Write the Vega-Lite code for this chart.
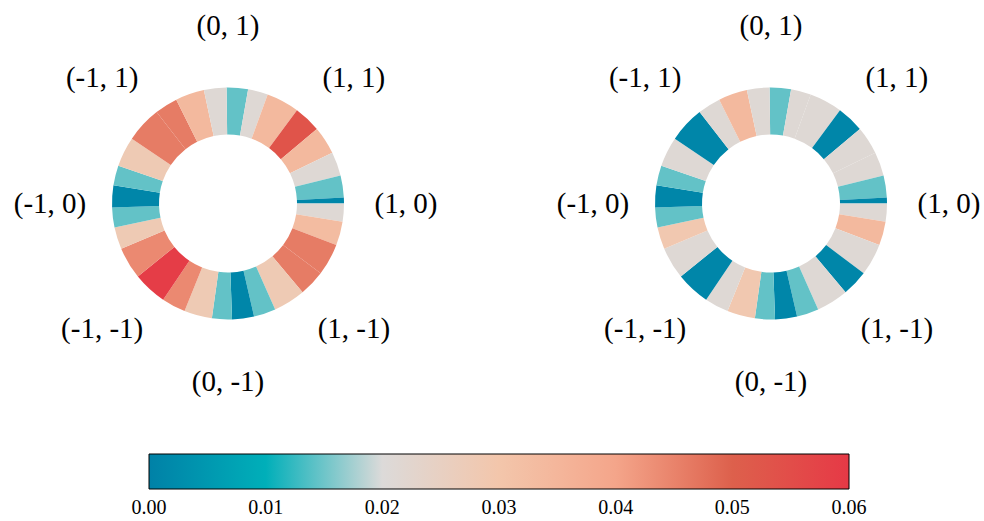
{
  "$schema": "https://vega.github.io/schema/vega-lite/v6.json",
  "padding": 0,
  "background": "white",
  "config": {
    "view": {"stroke": null},
    "font": "Liberation Serif",
    "concat": {"spacing": 100}
  },
  "datasets": {
    "left": [
      {"start": -0.7, "end": 10, "value": 0.0145},
      {"start": 10, "end": 20, "value": 0.021},
      {"start": 20, "end": 36.5, "value": 0.034},
      {"start": 36.5, "end": 50, "value": 0.053},
      {"start": 50, "end": 64, "value": 0.034},
      {"start": 64, "end": 76, "value": 0.021},
      {"start": 76, "end": 87, "value": 0.0145},
      {"start": 87, "end": 90, "value": 0.001},
      {"start": 90, "end": 99, "value": 0.021},
      {"start": 99, "end": 111, "value": 0.033},
      {"start": 111, "end": 127, "value": 0.046},
      {"start": 127, "end": 140, "value": 0.046},
      {"start": 140, "end": 156, "value": 0.028},
      {"start": 156, "end": 167, "value": 0.0145},
      {"start": 167, "end": 178, "value": 0.001},
      {"start": 178, "end": 188, "value": 0.0145},
      {"start": 188, "end": 202, "value": 0.028},
      {"start": 202, "end": 214, "value": 0.044},
      {"start": 214, "end": 231, "value": 0.059},
      {"start": 231, "end": 247, "value": 0.044},
      {"start": 247, "end": 258, "value": 0.028},
      {"start": 258, "end": 268, "value": 0.0145},
      {"start": 268, "end": 279, "value": 0.001},
      {"start": 279, "end": 289, "value": 0.0145},
      {"start": 289, "end": 304, "value": 0.028},
      {"start": 304, "end": 322, "value": 0.046},
      {"start": 322, "end": 333.5, "value": 0.046},
      {"start": 333.5, "end": 348, "value": 0.034},
      {"start": 348, "end": 359.3, "value": 0.021}
    ],
    "right": [
      {"start": -0.7, "end": 10, "value": 0.0145},
      {"start": 10, "end": 20, "value": 0.021},
      {"start": 20, "end": 36.5, "value": 0.021},
      {"start": 36.5, "end": 50, "value": 0.001},
      {"start": 50, "end": 64, "value": 0.021},
      {"start": 64, "end": 76, "value": 0.021},
      {"start": 76, "end": 87, "value": 0.0145},
      {"start": 87, "end": 90, "value": 0.001},
      {"start": 90, "end": 99, "value": 0.021},
      {"start": 99, "end": 111, "value": 0.034},
      {"start": 111, "end": 127, "value": 0.021},
      {"start": 127, "end": 140, "value": 0.001},
      {"start": 140, "end": 156, "value": 0.021},
      {"start": 156, "end": 167, "value": 0.0145},
      {"start": 167, "end": 178, "value": 0.001},
      {"start": 178, "end": 188, "value": 0.0145},
      {"start": 188, "end": 202, "value": 0.029},
      {"start": 202, "end": 214, "value": 0.021},
      {"start": 214, "end": 231, "value": 0.001},
      {"start": 231, "end": 247, "value": 0.021},
      {"start": 247, "end": 258, "value": 0.029},
      {"start": 258, "end": 268, "value": 0.0145},
      {"start": 268, "end": 279, "value": 0.001},
      {"start": 279, "end": 289, "value": 0.0145},
      {"start": 289, "end": 304, "value": 0.021},
      {"start": 304, "end": 322, "value": 0.001},
      {"start": 322, "end": 333.5, "value": 0.021},
      {"start": 333.5, "end": 348, "value": 0.034},
      {"start": 348, "end": 359.3, "value": 0.021}
    ],
    "labels": [
      {"label": "(0, 1)", "angle": 0},
      {"label": "(1, 1)", "angle": 45},
      {"label": "(1, 0)", "angle": 90},
      {"label": "(1, -1)", "angle": 135},
      {"label": "(0, -1)", "angle": 180},
      {"label": "(-1, -1)", "angle": 225},
      {"label": "(-1, 0)", "angle": 270},
      {"label": "(-1, 1)", "angle": 315}
    ]
  },
  "hconcat": [
    {
      "width": 456,
      "height": 407,
      "layer": [
        {
          "data": {"name": "left"},
          "mark": {"type": "arc", "innerRadius": 69, "outerRadius": 116},
          "encoding": {
            "theta": {"field": "start", "type": "quantitative", "stack": null, "scale": {"domain": [0, 360], "range": [0, 6.283185307]}},
            "theta2": {"field": "end"},
            "color": {
              "field": "value", "type": "quantitative",
              "scale": {"domain": [0, 0.01, 0.02, 0.03, 0.04, 0.05, 0.06], "range": ["#0081a7", "#00afb9", "#dcdad9", "#f3c6ab", "#f4a58a", "#dd604c", "#e63946"], "interpolate": "rgb"},
              "legend": {
                "orient": "none", "legendX": 149, "legendY": 454, "direction": "horizontal",
                "gradientLength": 700, "gradientThickness": 35, "title": null,
                "values": [0, 0.01, 0.02, 0.03, 0.04, 0.05, 0.06], "format": ".2f",
                "labelFontSize": 20, "labelFont": "Liberation Serif", "labelColor": "black",
                "labelAlign": "center", "labelOffset": 9, "labelOverlap": false,
                "gradientStrokeColor": "black", "gradientStrokeWidth": 1,
                "encode": {"labels": {"enter": {"align": {"value": "center"}}, "update": {"align": {"value": "center"}}}}
              }
            }
          }
        },
        {
          "data": {"name": "labels"},
          "mark": {"type": "text", "radius": 178, "fontSize": 29, "font": "Liberation Serif", "color": "black", "align": "center", "baseline": "middle"},
          "encoding": {
            "theta": {"field": "angle", "type": "quantitative", "stack": null, "scale": {"domain": [0, 360], "range": [0, 6.283185307]}},
            "text": {"field": "label"}
          }
        }
      ]
    },
    {
      "width": 420,
      "height": 407,
      "layer": [
        {
          "data": {"name": "right"},
          "mark": {"type": "arc", "innerRadius": 69, "outerRadius": 116},
          "encoding": {
            "theta": {"field": "start", "type": "quantitative", "stack": null, "scale": {"domain": [0, 360], "range": [0, 6.283185307]}},
            "theta2": {"field": "end"},
            "color": {"field": "value", "type": "quantitative"}
          }
        },
        {
          "data": {"name": "labels"},
          "mark": {"type": "text", "radius": 178, "fontSize": 29, "font": "Liberation Serif", "color": "black", "align": "center", "baseline": "middle"},
          "encoding": {
            "theta": {"field": "angle", "type": "quantitative", "stack": null, "scale": {"domain": [0, 360], "range": [0, 6.283185307]}},
            "text": {"field": "label"}
          }
        }
      ]
    }
  ],
  "resolve": {"scale": {"color": "shared"}}
}
